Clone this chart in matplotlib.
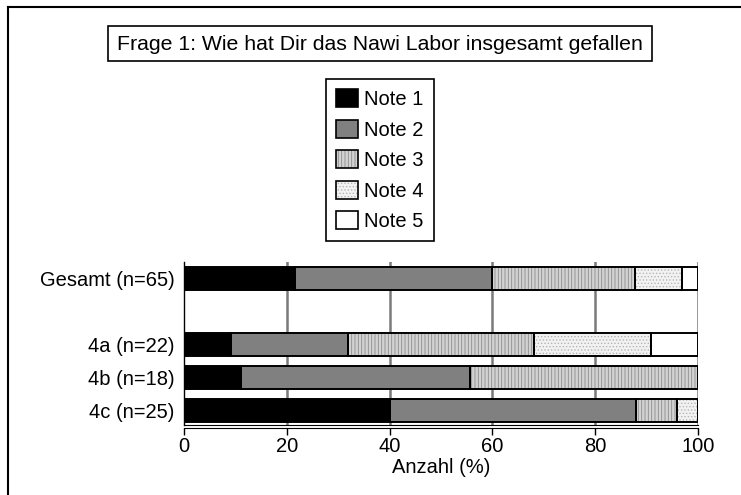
import numpy as np
import matplotlib
matplotlib.use('Agg')
from matplotlib import pyplot as plt
from matplotlib.patches import Patch, Rectangle
from matplotlib.lines import Line2D
from matplotlib.legend_handler import HandlerTuple

plt.rcParams['font.family'] = ['Liberation Sans', 'DejaVu Sans']
plt.rcParams['hatch.linewidth'] = 0.6

# groups from top to bottom, the empty row is the gap in the original chart
groups = ['Gesamt (n=65)', '', '4a (n=22)', '4b (n=18)', '4c (n=25)']
n_pupils = [65, 0, 22, 18, 25]
note_names = ['Note 1', 'Note 2', 'Note 3', 'Note 4', 'Note 5']
# counts per note (rows) and group (columns)
note1 = [14, 0, 2, 2, 10]
note2 = [25, 0, 5, 8, 12]
note3 = [18, 0, 8, 8, 2]
note4 = [6, 0, 5, 0, 1]
note5 = [2, 0, 2, 0, 0]
x_ticks = [0, 20, 40, 60, 80, 100]
title = 'Frage 1: Wie hat Dir das Nawi Labor insgesamt gefallen'

counts = np.array([note1, note2, note3, note4, note5], dtype=float)
n = np.array(n_pupils, dtype=float)
pct = np.divide(counts * 100, n, out=np.zeros_like(counts), where=n > 0)

faces = ['black', '#808080', '#d2d2d2', '#f2f2f2', 'white']
hatches = [None, None, '|||||', '.....', None]
hatch_cols = ['black', '#808080', '#8c8c8c', '#b4b4b4', 'white']

FS = 14.5
W, H = 741, 495
fig = plt.figure(figsize=(W / 100, H / 100), dpi=100)
ax = fig.add_axes([184 / W, 1 - 425 / H, (698 - 184) / W, (425 - 262) / H])

ypos = np.arange(len(groups))[::-1]
left = np.zeros(len(groups))
for i in range(len(note_names)):
    ax.barh(ypos, pct[i], left=left, height=0.7, color=faces[i],
            hatch=hatches[i], edgecolor=hatch_cols[i], linewidth=0, zorder=3)
    ax.barh(ypos, pct[i], left=left, height=0.7, fill=False,
            edgecolor='black', linewidth=1.4, zorder=4)
    left += pct[i]

ax.set_xlim(0, 100)
ax.set_ylim(-0.45, 4.5)
ax.set_xticks(x_ticks)
ax.set_yticks(ypos)
ax.set_yticklabels(groups)
ax.tick_params(axis='y', length=0, labelsize=FS, pad=7)
ax.tick_params(axis='x', length=5, width=1, direction='out', labelsize=FS, pad=2)
ax.set_xlabel('Anzahl (%)', fontsize=FS, labelpad=1)
for v in x_ticks[1:]:
    ax.axvline(v, color='#7a7a7a', linewidth=1.8, zorder=1)
ax.axhline(-0.45, color='black', linewidth=0.8, zorder=5, clip_on=False)
ax.spines['top'].set_visible(False)
ax.spines['right'].set_visible(False)
ax.spines['bottom'].set_position(('outward', 2))
ax.spines['left'].set_linewidth(1)

# title box
fig.add_artist(Rectangle((108 / W, 1 - 61 / H), (652 - 108) / W, 35 / H,
                         transform=fig.transFigure, facecolor='white',
                         edgecolor='black', linewidth=1.2))
fig.text(380 / W, 1 - 44 / H, title, ha='center', va='center', fontsize=15.3)

# legend
handles = []
for i in range(len(note_names)):
    handles.append((Patch(facecolor=faces[i], hatch=hatches[i], edgecolor=hatch_cols[i], linewidth=0),
                    Patch(fill=False, edgecolor='black', linewidth=1.2)))
leg = fig.legend(handles, note_names, loc='upper left',
                 bbox_to_anchor=(326 / W, 1 - 79 / H), borderaxespad=0,
                 fontsize=FS, handlelength=1.1, handleheight=1.0,
                 handletextpad=0.3, labelspacing=0.53, borderpad=0.5,
                 fancybox=False, framealpha=1,
                 handler_map={tuple: HandlerTuple(ndivide=1)})
leg.get_frame().set_edgecolor('black')
leg.get_frame().set_linewidth(1.2)

# outer border (only top and left visible)
fig.add_artist(Line2D([8 / W, 1.0], [1 - 7 / H, 1 - 7 / H], transform=fig.transFigure,
                      color='black', linewidth=1.5))
fig.add_artist(Line2D([8 / W, 8 / W], [0, 1 - 7 / H], transform=fig.transFigure,
                      color='black', linewidth=1.5))

fig.savefig('out.png', dpi=100)
